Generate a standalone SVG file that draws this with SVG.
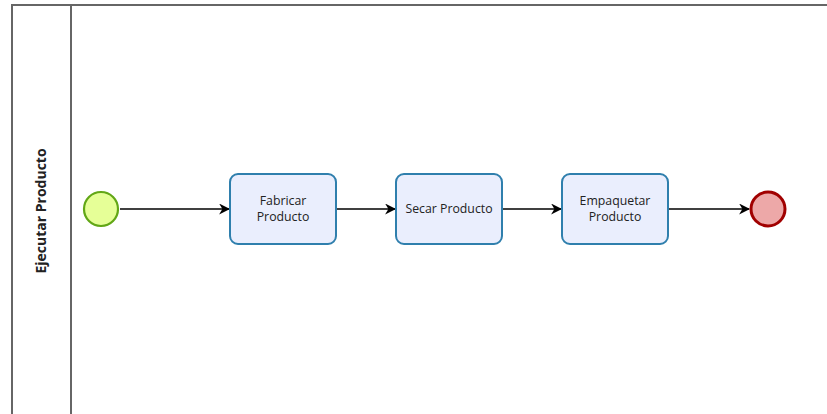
<svg xmlns="http://www.w3.org/2000/svg" width="827" height="414" viewBox="0 0 827 414">
  <style>
    .pool { stroke: #666; stroke-width: 2; fill: none; }
    .task { fill: #eaeefd; stroke: #2f7fad; stroke-width: 2; }
    .label { font-family: "Open Sans", "DejaVu Sans", sans-serif; font-size: 12.3px; fill: #222; text-anchor: middle; }
    .flow { stroke: #000; stroke-width: 1.3; fill: none; marker-end: url(#arrow); }
  </style>
  <defs>
    <marker id="arrow" viewBox="0 0 10 10" refX="9" refY="5" markerWidth="11" markerHeight="11" markerUnits="userSpaceOnUse" orient="auto">
      <path d="M0,0 L10,5 L0,10 L3,5 Z" fill="#000"/>
    </marker>
  </defs>
  <rect width="827" height="414" fill="#fff"/>

  <!-- Pool / lane -->
  <g id="pool">
    <path class="pool" d="M12,414 L12,5 L827,5"/>
    <path class="pool" d="M71,5 L71,414"/>
    <text x="0" y="0" transform="translate(46,211) rotate(-90)" font-family="'Open Sans', 'DejaVu Sans', sans-serif" font-size="14" font-weight="bold" fill="#222" text-anchor="middle">Ejecutar Producto</text>
  </g>

  <!-- Connectors -->
  <g id="connectors">
    <line class="flow" x1="120" y1="209" x2="229" y2="209"/>
    <line class="flow" x1="337" y1="209" x2="395" y2="209"/>
    <line class="flow" x1="503" y1="209" x2="561" y2="209"/>
    <line class="flow" x1="669" y1="209" x2="749" y2="209"/>
  </g>

  <g id="start">
    <circle cx="101" cy="209" r="17" fill="#e6ff97" stroke="#62a716" stroke-width="2.2"/>
  </g>

  <g id="task-fabricar">
    <rect class="task" x="230" y="174" width="106" height="70" rx="8"/>
    <text class="label" x="283" y="205">Fabricar</text>
    <text class="label" x="283" y="221">Producto</text>
  </g>

  <g id="task-secar">
    <rect class="task" x="396" y="174" width="106" height="70" rx="8"/>
    <text class="label" x="449" y="213">Secar Producto</text>
  </g>

  <g id="task-empaquetar">
    <rect class="task" x="562" y="174" width="106" height="70" rx="8"/>
    <text class="label" x="615" y="205">Empaquetar</text>
    <text class="label" x="615" y="221">Producto</text>
  </g>

  <g id="end">
    <circle cx="768" cy="209" r="17" fill="#eda8a8" stroke="#a10000" stroke-width="3"/>
  </g>
</svg>
